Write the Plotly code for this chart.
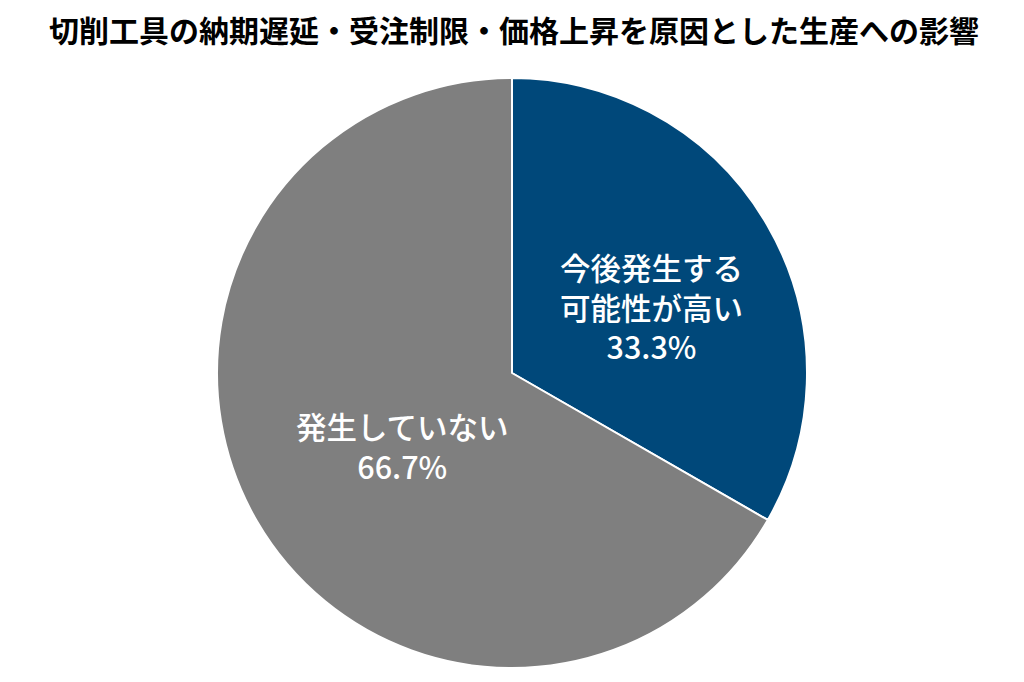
import math
import plotly.graph_objects as go

labels = ["今後発生する<br>可能性が高い", "発生していない"]
values = [33.3, 66.7]
colors = ["#00487A", "#7F7F7F"]
title = "切削工具の納期遅延・受注制限・価格上昇を原因とした生産への影響"

# label placement style: (fraction of radius, angular nudge in degrees)
label_place = [(0.522, 4.6), (0.445, -3.8)]
label_font = dict(family="Noto Sans CJK JP", size=30.5, color="white", weight=500)

fig = go.Figure(go.Pie(
    labels=labels,
    values=values,
    sort=False,
    direction="clockwise",
    rotation=0,
    marker=dict(colors=colors, line=dict(color="white", width=2)),
    textinfo="none",
    hoverinfo="skip",
))

total = sum(values)
cum = 0.0
annotations = []
for lab, val, (frac, nudge) in zip(labels, values, label_place):
    mid = (cum + val / 2) / total * 360 + nudge
    cum += val
    th = math.radians(mid)
    xp = 0.5 + 0.5 * frac * math.sin(th)
    yp = 0.5 + 0.5 * frac * math.cos(th)
    annotations.append(dict(
        x=xp, y=yp, xref="paper", yref="paper", text=f"{lab}<br>{val:.1f}%",
        showarrow=False, xanchor="center", yanchor="middle", align="center",
        font=label_font,
    ))

fig.update_layout(
    width=1024, height=682,
    margin=dict(l=209, r=225, t=70, b=22),
    showlegend=False,
    paper_bgcolor="white",
    annotations=annotations,
    title=dict(text=title, x=(512 - 6) / 1024, xanchor="center", y=1 - 23.5/682, yanchor="middle",
               yref="container",
               font=dict(family="Noto Sans CJK JP", size=30, color="black", weight="bold")),
)

fig.write_html("out.html")
